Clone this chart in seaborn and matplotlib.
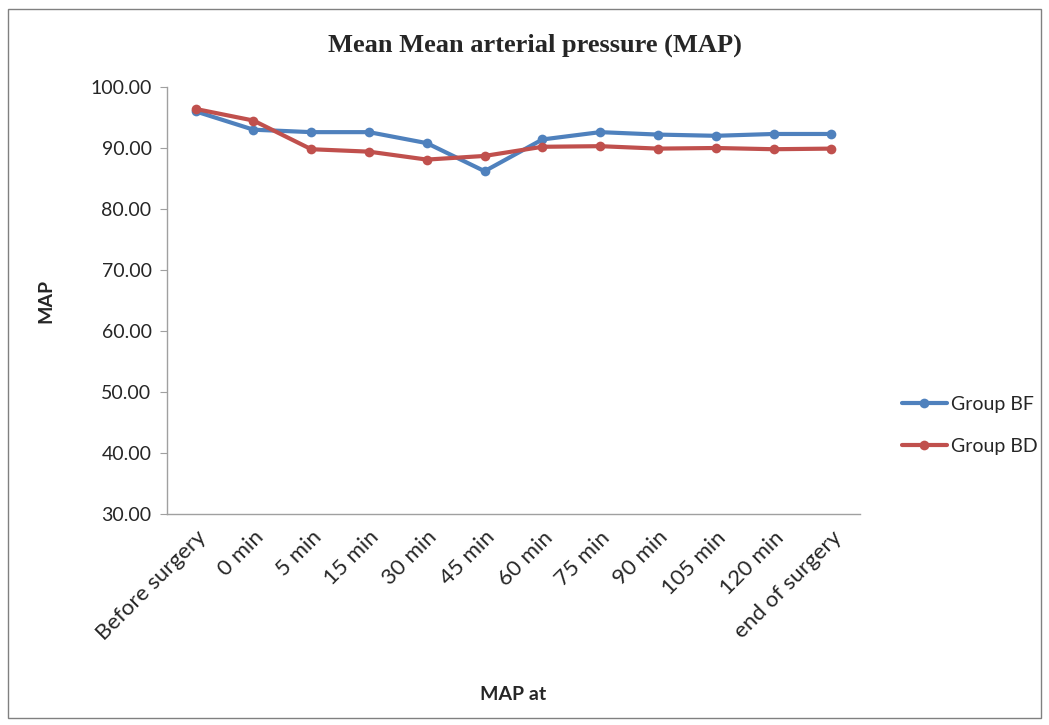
import numpy as np
import pandas as pd
import matplotlib
matplotlib.use("Agg")
import matplotlib.pyplot as plt
import seaborn as sns
from matplotlib.patches import Rectangle

# データ
time_points = ["Before surgery", "0 min", "5 min", "15 min", "30 min", "45 min",
               "60 min", "75 min", "90 min", "105 min", "120 min", "end of surgery"]
group_bf = [96.0, 93.0, 92.6, 92.6, 90.8, 86.2, 91.4, 92.6, 92.2, 92.0, 92.3, 92.3]
group_bd = [96.4, 94.5, 89.8, 89.4, 88.1, 88.7, 90.2, 90.3, 89.9, 90.0, 89.8, 89.9]

df = pd.concat([
    pd.DataFrame({"time": time_points, "MAP": group_bf, "group": "Group BF"}),
    pd.DataFrame({"time": time_points, "MAP": group_bd, "group": "Group BD"}),
], ignore_index=True)
df["pos"] = df["time"].map({t: i for i, t in enumerate(time_points)})

sns.set_style("white")
plt.rcParams["font.family"] = ["Lato", "DejaVu Sans"]

fig = plt.figure(figsize=(10.49, 7.25), dpi=100)
ax = fig.add_axes([0.159, 0.291, 0.661, 0.589])

sns.lineplot(data=df, x="pos", y="MAP", hue="group", ax=ax,
             palette={"Group BF": "#4F81BD", "Group BD": "#C0504D"},
             marker="o", markersize=7, markeredgewidth=0, linewidth=3)

ax.set_xlim(-0.5, len(time_points) - 0.5)
ax.set_ylim(30, 100)
ax.set_yticks(np.arange(30, 101, 10))
ax.set_yticklabels([f"{v:.2f}" for v in np.arange(30, 101, 10)], fontsize=14)
ax.set_xticks(range(len(time_points)))
ax.set_xticklabels(time_points, rotation=45, ha="right", rotation_mode="anchor", fontsize=16)

for side in ["top", "right"]:
    ax.spines[side].set_visible(False)
for side in ["left", "bottom"]:
    ax.spines[side].set_color("#A0A0A0")
    ax.spines[side].set_linewidth(1)
ax.tick_params(axis="y", left=True, length=5, color="#A0A0A0", pad=6)
ax.tick_params(axis="x", bottom=False, pad=6)

ax.set_ylabel("MAP", fontsize=14, fontweight="bold", labelpad=26)
ax.set_xlabel("MAP at", fontsize=14, fontweight="bold", labelpad=30)
fig.text(0.51, 0.937, "Mean Mean arterial pressure (MAP)", ha="center", va="center",
         fontsize=19, fontweight="bold", family="Liberation Serif")

ax.legend(loc="center left", bbox_to_anchor=(1.035, 0.208), frameon=False,
          fontsize=14, handlelength=2.3, handletextpad=0.2, labelspacing=1.3)

# 外枠
fig.patches.append(Rectangle((0.008, 0.01), 0.984, 0.978, transform=fig.transFigure,
                             fill=False, edgecolor="#808080", linewidth=1))

fig.savefig("out.png", dpi=100)
